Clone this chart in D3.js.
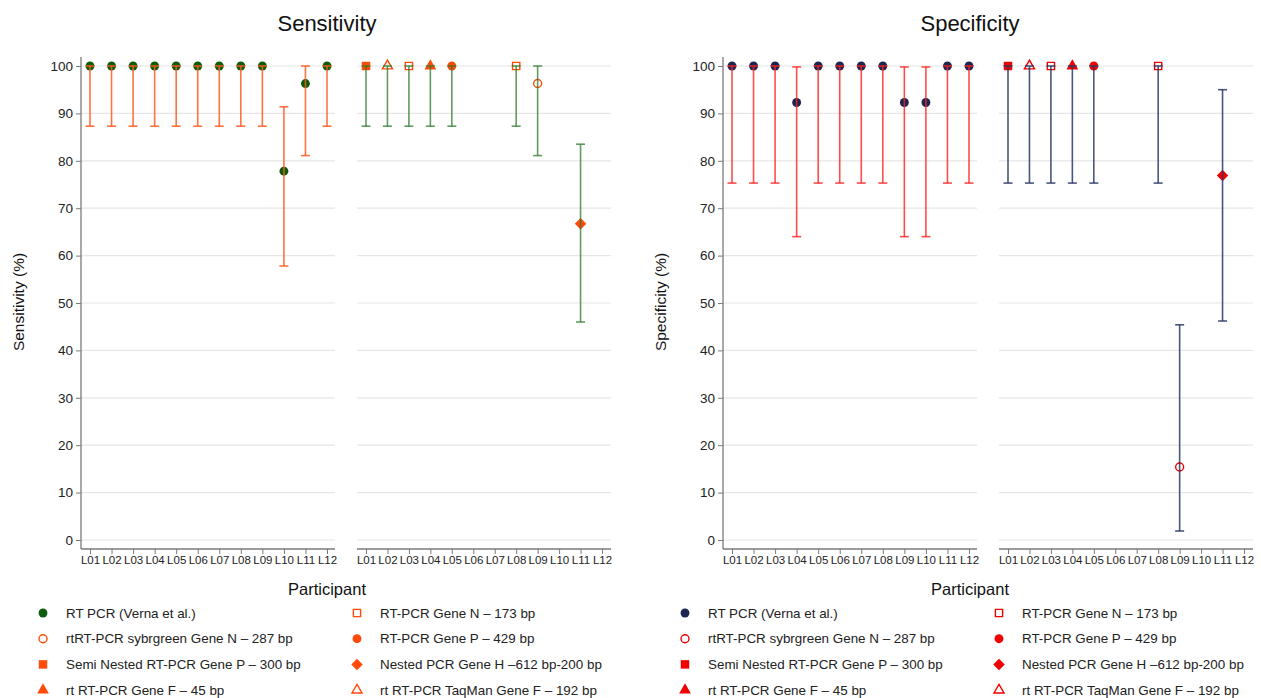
<!DOCTYPE html>
<html>
<head>
<meta charset="utf-8">
<script src="https://cdn.jsdelivr.net/npm/d3@7"></script>
<style>
  body { margin: 0; background: #fff; }
  svg { font-family: "Liberation Sans", Arial, sans-serif; }
</style>
</head>
<body>
<svg id="chart"></svg>
<script>
const width = 1261;
const height = 698;

const participants = ["L01","L02","L03","L04","L05","L06","L07","L08","L09","L10","L11","L12"];
const yTicks = [0,10,20,30,40,50,60,70,80,90,100];

// method shown at each participant in the second sub-plot
const testByParticipant = ["semi","taqman","geneN173","geneF45","geneP429",null,null,"geneN173","sybr",null,"nested",null];

const sensRef     = [100,100,100,100,100,100,100,100,100,77.8,96.3,100];
const sensRefLow  = [87.3,87.3,87.3,87.3,87.3,87.3,87.3,87.3,87.3,57.8,81.1,87.3];
const sensRefHigh = [100,100,100,100,100,100,100,100,100,91.4,100,100];
const sensTest     = [100,100,100,100,100,null,null,100,96.3,null,66.7,null];
const sensTestLow  = [87.3,87.3,87.3,87.3,87.3,null,null,87.3,81.1,null,46.0,null];
const sensTestHigh = [100,100,100,100,100,null,null,100,100,null,83.5,null];

const specRef     = [100,100,100,92.3,100,100,100,100,92.3,92.3,100,100];
const specRefLow  = [75.3,75.3,75.3,64.0,75.3,75.3,75.3,75.3,64.0,64.0,75.3,75.3];
const specRefHigh = [100,100,100,99.8,100,100,100,100,99.8,99.8,100,100];
const specTest     = [100,100,100,100,100,null,null,100,15.4,null,76.9,null];
const specTestLow  = [75.3,75.3,75.3,75.3,75.3,null,null,75.3,1.9,null,46.2,null];
const specTestHigh = [100,100,100,100,100,null,null,100,45.4,null,95.0,null];

const methodKeys = ["ref","sybr","semi","geneF45","geneN173","geneP429","nested","taqman"];
const methodLabels = [
  "RT PCR (Verna et al.)",
  "rtRT-PCR sybrgreen Gene N \u2013 287 bp",
  "Semi Nested RT-PCR Gene P \u2013 300 bp",
  "rt RT-PCR Gene F \u2013 45 bp",
  "RT-PCR Gene N \u2013 173 bp",
  "RT-PCR Gene P \u2013 429 bp",
  "Nested PCR Gene H \u2013612 bp-200 bp",
  "rt RT-PCR TaqMan Gene F \u2013 192 bp"
];
// [symbol, filled, rotate]
const methodShapes = {
  ref: [d3.symbolCircle, true, 0], sybr: [d3.symbolCircle, false, 0],
  semi: [d3.symbolSquare, true, 0], geneF45: [d3.symbolTriangle, true, 0],
  geneN173: [d3.symbolSquare, false, 0], geneP429: [d3.symbolCircle, true, 0],
  nested: [d3.symbolSquare, true, 45], taqman: [d3.symbolTriangle, false, 0]
};

const svg = d3.select("#chart").attr("width", width).attr("height", height);

const y = d3.scaleLinear().domain([0, 100]).range([540, 66]);

function marker(g, key, x, yy, color, refColor) {
  const shape = methodShapes[key];
  const filled = shape[1];
  let size = 62;
  if (shape[0] === d3.symbolSquare) size = filled ? 72 : 52;
  if (shape[0] === d3.symbolTriangle) size = filled ? 60 : 44;
  if (shape[2] === 45) size = 66;
  if (shape[0] === d3.symbolCircle && !filled) size = 50;
  g.append("path")
    .attr("d", d3.symbol().type(shape[0]).size(size)())
    .attr("transform", `translate(${x},${yy}) rotate(${shape[2]})`)
    .style("fill", filled ? (key === "ref" ? refColor : color) : "none")
    .style("stroke", filled ? "none" : color)
    .style("stroke-width", 1.4);
}

function errorBar(g, x, lo, hi, color, op) {
  const bar = g.append("g").style("stroke", color).style("stroke-opacity", op).style("stroke-width", 1.6);
  bar.append("line").attr("x1", x).attr("x2", x).attr("y1", y(lo)).attr("y2", y(hi));
  bar.append("line").attr("x1", x - 4.5).attr("x2", x + 4.5).attr("y1", y(lo)).attr("y2", y(lo));
  bar.append("line").attr("x1", x - 4.5).attr("x2", x + 4.5).attr("y1", y(hi)).attr("y2", y(hi));
}

function drawPanel(cfg) {
  const off = cfg.offset;
  const g = svg.append("g");

  const x1 = d3.scalePoint().domain(participants).range([90 + off, 327 + off]);
  const x2 = d3.scalePoint().domain(participants).range([366 + off, 602 + off]);

  // gridlines
  [[81 + off, 335 + off], [357 + off, 611 + off]].forEach(function(r) {
    g.append("g").selectAll("line").data(yTicks).join("line")
      .attr("x1", r[0]).attr("x2", r[1])
      .attr("y1", d => y(d)).attr("y2", d => y(d))
      .style("stroke", "#e6e6e6").style("stroke-width", 1.2);
  });

  // y axis
  const yAxis = g.append("g").attr("transform", `translate(${81 + off},0)`)
    .call(d3.axisLeft(y).tickValues(yTicks).tickSize(5).tickSizeOuter(0));
  yAxis.select(".domain").attr("d", `M0,57V549`);
  yAxis.selectAll("line").style("stroke", "#7a7a7a");
  yAxis.select(".domain").style("stroke", "#7a7a7a").style("stroke-width", 1.3);
  yAxis.selectAll("text").style("font-size", "13.5px").style("fill", "#222").attr("x", -8);

  // x axes
  [[x1, 81 + off, 335 + off], [x2, 357 + off, 611 + off]].forEach(function(a) {
    const ax = g.append("g").attr("transform", "translate(0,549)")
      .call(d3.axisBottom(a[0]).tickSize(5).tickSizeOuter(0));
    ax.select(".domain").attr("d", `M${a[1]},0H${a[2]}`).style("stroke", "#7a7a7a").style("stroke-width", 1.3);
    ax.selectAll("line").style("stroke", "#7a7a7a");
    ax.selectAll("text").style("font-size", "11.5px").style("fill", "#222").attr("y", 7);
  });

  // sub-plot 1: reference method
  const p1 = g.append("g");
  participants.forEach(function(p, i) {
    marker(p1, "ref", x1(p), y(cfg.ref[i]), cfg.refColor, cfg.refColor);
  });
  participants.forEach(function(p, i) {
    errorBar(p1, x1(p), cfg.refLow[i], cfg.refHigh[i], cfg.ciColor1, cfg.op1);
  });

  // sub-plot 2: participant methods
  const p2 = g.append("g");
  participants.forEach(function(p, i) {
    if (cfg.test[i] === null) return;
    marker(p2, testByParticipant[i], x2(p), y(cfg.test[i]), cfg.testColor, cfg.refColor);
  });
  participants.forEach(function(p, i) {
    if (cfg.test[i] === null) return;
    errorBar(p2, x2(p), cfg.testLow[i], cfg.testHigh[i], cfg.ciColor2, cfg.op2);
  });

  // titles
  g.append("text").attr("x", cfg.titleX).attr("y", 31).attr("text-anchor", "middle")
    .style("font-size", "22px").style("fill", "#111").text(cfg.title);
  g.append("text").attr("x", cfg.titleX).attr("y", 595).attr("text-anchor", "middle")
    .style("font-size", "16.5px").style("fill", "#111").text("Participant");
  g.append("text").attr("transform", `translate(${24 + off},302) rotate(-90)`).attr("text-anchor", "middle")
    .style("font-size", "15.5px").style("fill", "#111").text(cfg.yLabel);

  // legend
  const leg = g.append("g");
  methodKeys.forEach(function(k, i) {
    const col = Math.floor(i / 4), row = i % 4;
    const lx = (col === 0 ? 43 : 357) + off;
    const ly = 613 + row * 25.7;
    marker(leg, k, lx, ly, cfg.testColor, cfg.refColor);
    leg.append("text").attr("x", lx + 23).attr("y", ly + 4.5)
      .style("font-size", "13.4px").style("fill", "#222").text(methodLabels[i]);
  });
}

drawPanel({
  offset: 0, title: "Sensitivity", yLabel: "Sensitivity (%)", titleX: 327,
  ref: sensRef, refLow: sensRefLow, refHigh: sensRefHigh,
  test: sensTest, testLow: sensTestLow, testHigh: sensTestHigh,
  refColor: "#0c5c0c", testColor: "#ff4a0a",
  ciColor1: "#ff5a1f", op1: 0.85, ciColor2: "#2b7a2b", op2: 0.75
});

drawPanel({
  offset: 642, title: "Specificity", yLabel: "Specificity (%)", titleX: 970,
  ref: specRef, refLow: specRefLow, refHigh: specRefHigh,
  test: specTest, testLow: specTestLow, testHigh: specTestHigh,
  refColor: "#1b2750", testColor: "#f00000",
  ciColor1: "#ff2020", op1: 0.8, ciColor2: "#2a3866", op2: 0.85
});
</script>
</body>
</html>
